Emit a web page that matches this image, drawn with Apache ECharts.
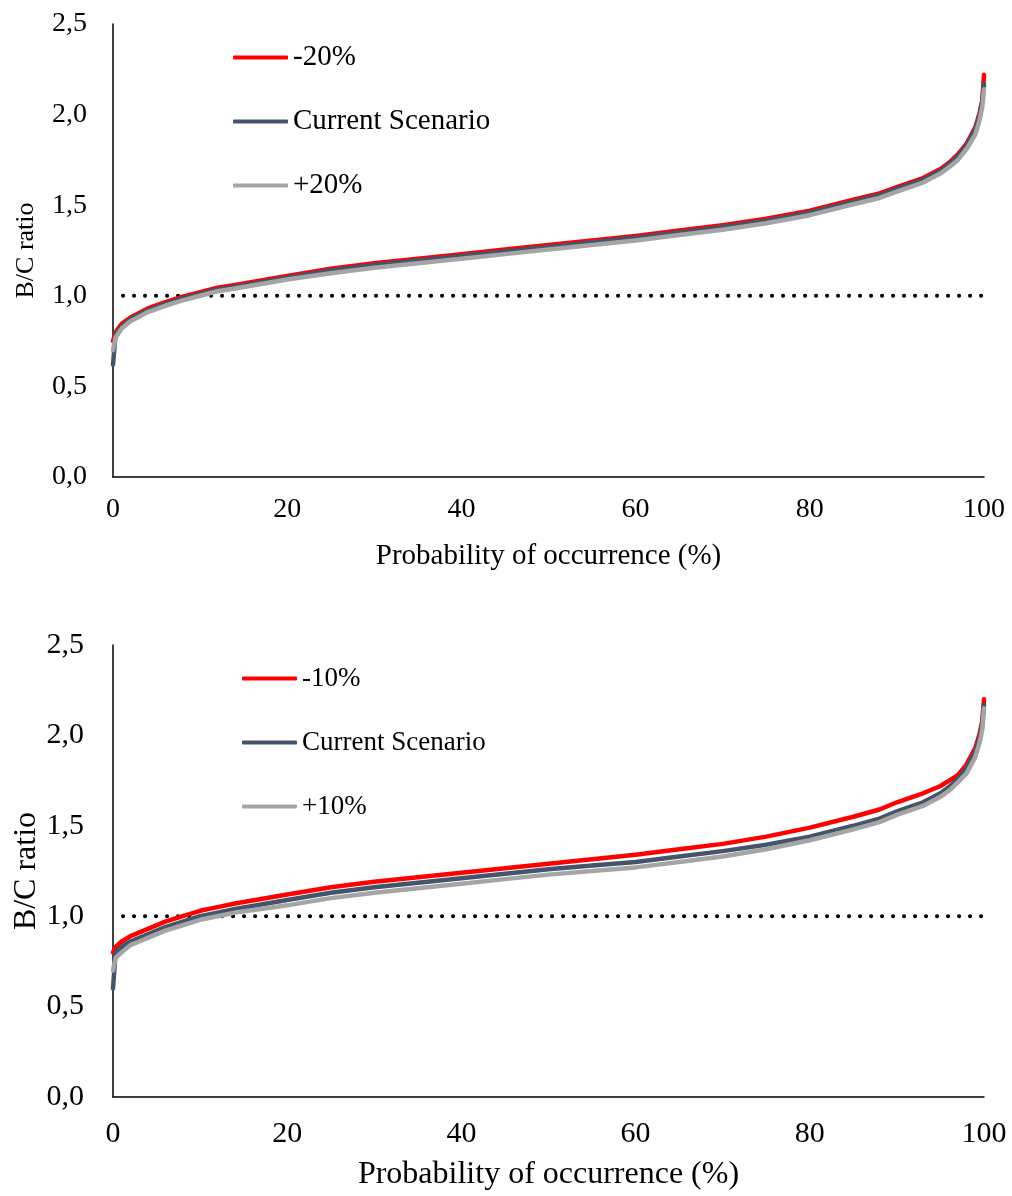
<!DOCTYPE html>
<html lang="en">
<head>
  <meta charset="UTF-8">
  <title>B/C ratio</title>
  <style>
    html, body { margin: 0; padding: 0; background: #fff; }
    #chart { width: 1012px; height: 1196px; }
  </style>
</head>
<body>
  <div id="chart"></div>
  <script src="https://cdn.jsdelivr.net/npm/echarts@6/dist/echarts.min.js"></script>
  <script>
    // probability of occurrence (%)
    var probX = [0, 0.3, 1, 2, 3, 4, 6, 8, 10, 12, 14, 17, 20, 25, 30, 35, 40, 45, 50, 55, 60, 65, 70, 75, 80, 85, 88, 90, 93, 95, 96, 97, 98, 99, 99.5, 99.8, 100];

    // top panel: +/-20%
    var minus20   = [0.75, 0.80, 0.845, 0.88, 0.905, 0.93, 0.965, 0.995, 1.02, 1.045, 1.06, 1.085, 1.11, 1.15, 1.18, 1.205, 1.23, 1.255, 1.28, 1.305, 1.33, 1.36, 1.39, 1.425, 1.47, 1.53, 1.565, 1.60, 1.65, 1.70, 1.735, 1.78, 1.84, 1.93, 2.01, 2.08, 2.22];
    var current20 = [0.62, 0.79, 0.83, 0.87, 0.895, 0.92, 0.955, 0.985, 1.01, 1.035, 1.05, 1.075, 1.10, 1.14, 1.17, 1.195, 1.22, 1.245, 1.27, 1.295, 1.32, 1.35, 1.38, 1.415, 1.46, 1.52, 1.555, 1.59, 1.64, 1.69, 1.725, 1.77, 1.83, 1.92, 2.00, 2.07, 2.17];
    var plus20    = [0.70, 0.77, 0.82, 0.86, 0.885, 0.91, 0.945, 0.975, 1.00, 1.025, 1.04, 1.065, 1.09, 1.125, 1.155, 1.18, 1.205, 1.23, 1.255, 1.28, 1.305, 1.335, 1.365, 1.40, 1.445, 1.505, 1.54, 1.575, 1.625, 1.675, 1.71, 1.75, 1.81, 1.89, 1.97, 2.04, 2.14];

    // bottom panel: +/-10%
    var minus10   = [0.80, 0.83, 0.86, 0.89, 0.91, 0.93, 0.97, 1.00, 1.03, 1.05, 1.07, 1.095, 1.12, 1.16, 1.19, 1.215, 1.24, 1.265, 1.29, 1.315, 1.34, 1.37, 1.40, 1.44, 1.49, 1.55, 1.59, 1.63, 1.68, 1.72, 1.75, 1.78, 1.84, 1.93, 2.01, 2.08, 2.20];
    var current10 = [0.60, 0.80, 0.83, 0.86, 0.88, 0.90, 0.94, 0.97, 1.00, 1.02, 1.04, 1.065, 1.09, 1.13, 1.16, 1.185, 1.21, 1.235, 1.26, 1.28, 1.30, 1.33, 1.36, 1.395, 1.44, 1.50, 1.54, 1.58, 1.63, 1.68, 1.715, 1.76, 1.82, 1.91, 1.99, 2.06, 2.17];
    var plus10    = [0.70, 0.77, 0.80, 0.84, 0.86, 0.88, 0.92, 0.95, 0.98, 1.00, 1.02, 1.04, 1.06, 1.10, 1.13, 1.155, 1.18, 1.205, 1.23, 1.25, 1.27, 1.30, 1.33, 1.37, 1.42, 1.48, 1.52, 1.56, 1.61, 1.66, 1.695, 1.74, 1.79, 1.88, 1.96, 2.03, 2.15];

    var breakEven = [[0, 1], [100, 1]];

    var FONT = '"Liberation Serif", "Times New Roman", serif';
    var RED = '#ff0000', DARK = '#44546a', GREY = '#a5a5a5';

    function pairs(ys) {
      return probX.map(function (x, i) { return [x, ys[i]]; });
    }

    function curve(name, ys, color, idx) {
      return {
        name: name,
        type: 'line',
        xAxisIndex: idx,
        yAxisIndex: idx,
        data: pairs(ys),
        showSymbol: false,
        lineStyle: { color: color, width: 4.5, cap: 'round', join: 'round' },
        itemStyle: { color: color },
        z: 3
      };
    }

    function dotted(idx) {
      return {
        type: 'line',
        xAxisIndex: idx,
        yAxisIndex: idx,
        data: breakEven,
        showSymbol: false,
        silent: true,
        lineStyle: { color: '#000', width: 4, type: [0.1, 10.9], cap: 'round', dashOffset: -10 },
        z: 2
      };
    }

    // fs: tick font, ns: axis name font
    function xAxis(idx, fs, ns, margin, gap) {
      return {
        gridIndex: idx,
        type: 'value',
        min: 0, max: 100, interval: 20,
        name: 'Probability of occurrence (%)',
        nameLocation: 'middle',
        nameGap: gap,
        nameMoveOverlap: false,
        nameTextStyle: { fontFamily: FONT, fontSize: ns, color: '#000' },
        axisLine: { lineStyle: { color: '#000', width: 1.5 } },
        axisTick: { show: false },
        splitLine: { show: false },
        axisLabel: { fontFamily: FONT, fontSize: fs, color: '#000', margin: margin }
      };
    }

    function yAxis(idx, fs, ns, margin, gap) {
      return {
        gridIndex: idx,
        type: 'value',
        min: 0, max: 2.5, interval: 0.5,
        name: 'B/C ratio',
        nameLocation: 'middle',
        nameGap: gap,
        nameMoveOverlap: false,
        nameTextStyle: { fontFamily: FONT, fontSize: ns, color: '#000' },
        axisLine: { show: true, lineStyle: { color: '#000', width: 1.5 } },
        axisTick: { show: false },
        splitLine: { show: false },
        axisLabel: {
          fontFamily: FONT, fontSize: fs, color: '#000', margin: margin,
          formatter: function (v) { return v.toFixed(1).replace('.', ','); }
        }
      };
    }

    function legend(left, top, names, fs, gap) {
      return {
        orient: 'vertical',
        left: left,
        top: top,
        padding: 0,
        data: names,
        icon: 'roundRect',
        itemWidth: 55,
        itemHeight: 4,
        itemGap: gap,
        textStyle: { fontFamily: FONT, fontSize: fs, color: '#000' }
      };
    }

    var chart = echarts.init(document.getElementById('chart'));
    chart.setOption({
      animation: false,
      grid: [
        { left: 113, right: 28, top: 24, height: 453, outerBoundsMode: 'none' },
        { left: 113, right: 28, top: 645, height: 452, outerBoundsMode: 'none' }
      ],
      xAxis: [xAxis(0, 28, 29, 19, 65), xAxis(1, 30, 32, 22, 62)],
      yAxis: [yAxis(0, 28, 26, 26, 74), yAxis(1, 30, 32, 29, 70)],
      legend: [
        legend(233, 43, ['-20%', 'Current Scenario', '+20%'], 29, 35),
        legend(242, 665, ['-10%', 'Current Scenario', '+10%'], 27, 37)
      ],
      series: [
        dotted(0),
        curve('-20%', minus20, RED, 0),
        curve('Current Scenario', current20, DARK, 0),
        curve('+20%', plus20, GREY, 0),
        dotted(1),
        curve('-10%', minus10, RED, 1),
        curve('Current Scenario', current10, DARK, 1),
        curve('+10%', plus10, GREY, 1)
      ]
    });
  </script>
</body>
</html>
